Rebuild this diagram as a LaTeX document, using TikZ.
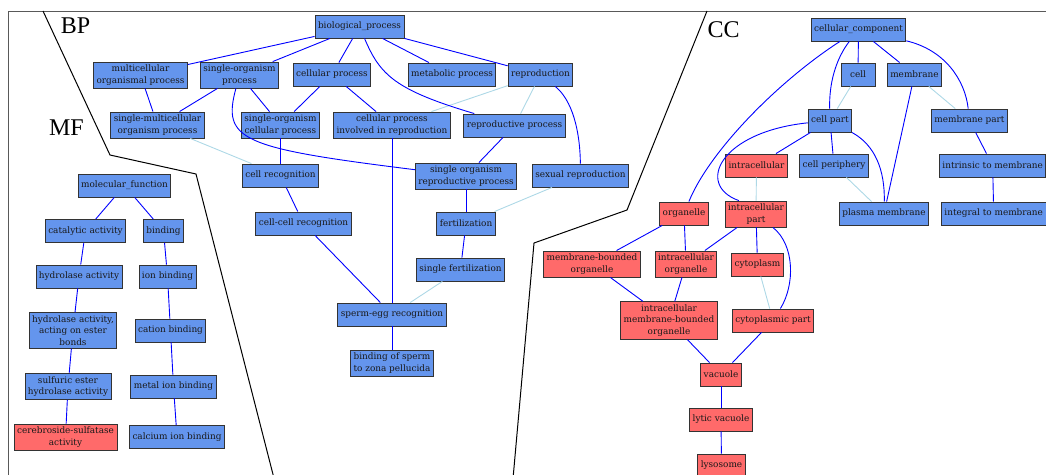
\documentclass[tikz,border=0pt]{standalone}
\usepackage{fontspec}
\newfontfamily\nodefont{DejaVu Serif}
\newfontfamily\regionfont{Liberation Serif}
\definecolor{goblue}{RGB}{100,149,237}
\definecolor{gored}{RGB}{255,106,106}
\definecolor{partblue}{RGB}{173,216,230}
\tikzset{
  term/.style={draw=black!80, line width=0.9pt, fill=goblue, text=black!90,
    font=\nodefont\fontsize{8.9}{11.3}\selectfont, align=center,
    inner xsep=3pt, inner ysep=3pt, minimum height=23pt, minimum width=34pt},
  hit/.style={term, fill=gored},
  isa/.style={draw=blue, line width=0.9pt},
  partof/.style={draw=partblue, line width=0.9pt},
  frontera/.style={draw=black, line width=1pt},
  marco/.style={draw=black!65, line width=0.9pt},
  ontolabel/.style={font=\regionfont\fontsize{24}{24}\selectfont}
}
\begin{document}
\begin{tikzpicture}[x=1pt, y=-1pt]
\useasboundingbox (0,0) rectangle (1046,474);

% Marco y fronteras entre ontologias
\draw[marco] (8,490) -- (8,11) -- (1060,11);
\draw[frontera] (43,11) -- (110,155) -- (196,174) -- (277,490);
\draw[frontera] (707,11) -- (627,210) -- (534,243) -- (512,490);
\node[ontolabel] (lblBP) at (75.5,25.5) {BP};
\node[ontolabel] (lblMF) at (66.5,128) {MF};
\node[ontolabel] (lblCC) at (723.5,30) {CC};

% Procesos biologicos (BP)
\node[term] (bp) at (359.5,26.5) {biological\_process};
\node[term] (multi) at (140.5,75) {multicellular\\organismal process};
\node[term] (sop) at (239.5,75) {single-organism\\process};
\node[term] (cellp) at (332,74.5) {cellular process};
\node[term] (metab) at (452,74.5) {metabolic process};
\node[term] (repro) at (540.5,74.5) {reproduction};
\node[term] (smop) at (157.5,125) {single-multicellular\\organism process};
\node[term] (socp) at (280.5,125) {single-organism\\cellular process};
\node[term] (cpir) at (392,125) {cellular process\\involved in reproduction};
\node[term] (reprop) at (514.5,125.5) {reproductive process};
\node[term] (cellrec) at (280.5,175.5) {cell recognition};
\node[term] (sorp) at (466,176) {single organism\\reproductive process};
\node[term] (sexrep) at (580.5,175.5) {sexual reproduction};
\node[term] (ccrec) at (303.5,223.5) {cell-cell recognition};
\node[term] (fert) at (466,223.5) {fertilization};
\node[term] (sfert) at (460.5,269.5) {single fertilization};
\node[term] (sperm) at (392,314.5) {sperm-egg recognition};
\node[term] (zona) at (392,363) {binding of sperm\\to zona pellucida};

% Funciones moleculares (MF)
\node[term] (mf) at (124.5,185.5) {molecular\_function};
\node[term] (cat) at (85.5,231) {catalytic activity};
\node[term] (bind) at (163.5,231) {binding};
\node[term] (hydro) at (79,276.5) {hydrolase activity};
\node[term] (ionb) at (167.5,276.5) {ion binding};
\node[term] (ester) at (73,330.5) {hydrolase activity,\\acting on ester\\bonds};
\node[term] (cation) at (170.5,330.5) {cation binding};
\node[term] (sulf) at (68,386.5) {sulfuric ester\\hydrolase activity};
\node[term] (metal) at (173.5,386.5) {metal ion binding};
\node[hit] (cereb) at (65.5,437) {cerebroside-sulfatase\\activity};
\node[term] (calc) at (177,437) {calcium ion binding};

% Componentes celulares (CC)
\node[term] (cc) at (858.5,29.5) {cellular\_component};
\node[term] (cell) at (858,74.5) {cell};
\node[term] (memb) at (914.5,74.5) {membrane};
\node[term] (cellpart) at (830,120.5) {cell part};
\node[term] (membpart) at (969.5,120.5) {membrane part};
\node[hit] (intrac) at (756.5,165.5) {intracellular};
\node[term] (periph) at (834,165.5) {cell periphery};
\node[term, anchor=west] (intrinsic) at (939,165.5) {intrinsic to membrane};
\node[hit] (organelle) at (684,213.5) {organelle};
\node[hit] (intrapart) at (756,214) {intracellular\\part};
\node[term] (plasma) at (884,213.5) {plasma membrane};
\node[term, anchor=west] (integral) at (941,213.5) {integral to membrane};
\node[hit] (mbo) at (592,264) {membrane-bounded\\organelle};
\node[hit] (io) at (686,264) {intracellular\\organelle};
\node[hit] (cyto) at (757.5,264.5) {cytoplasm};
\node[hit] (imbo) at (669,320.5) {intracellular\\membrane-bounded\\organelle};
\node[hit] (cytopart) at (773,320.5) {cytoplasmic part};
\node[hit] (vac) at (721,374.5) {vacuole};
\node[hit] (lytic) at (721,419.5) {lytic vacuole};
\node[hit] (lyso) at (721.5,465.5) {lysosome};

% Relaciones is_a (rectas)
\foreach \a/\b in {bp/multi, bp/sop, bp/cellp, bp/metab, bp/repro,
    multi/smop, sop/smop, sop/socp, cellp/socp, cellp/cpir, reprop/sorp,
    cpir/sperm, socp/cellrec, cellrec/ccrec, sorp/fert, fert/sfert,
    ccrec/sperm, sperm/zona,
    mf/cat, mf/bind, cat/hydro, hydro/ester, ester/sulf, sulf/cereb,
    bind/ionb, ionb/cation, cation/metal, metal/calc,
    cc/cell, cc/memb, memb/plasma, cellpart/intrac, cellpart/periph,
    membpart/intrinsic, intrinsic/integral, organelle/mbo, organelle/io,
    intrapart/io, intrapart/cyto, mbo/imbo, io/imbo, imbo/vac,
    cytopart/vac, vac/lytic, lytic/lyso}
  \draw[isa] (\a) -- (\b);

% Relaciones part_of
\foreach \a/\b in {repro/cpir, repro/reprop, smop/cellrec, sexrep/fert,
    sfert/sperm, cell/cellpart, memb/membpart, intrac/intrapart,
    periph/plasma, cyto/cytopart}
  \draw[partof] (\a) -- (\b);

% Relaciones is_a curvas
\draw[isa] (bp) .. controls (380,75) and (395,90) .. (reprop);
\draw[isa] (sop) .. controls (222,140) and (240,148) .. (sorp);
\draw[isa] (repro) .. controls (572,100) and (580,130) .. (sexrep);
\draw[isa] (cc) .. controls (780,80) and (710,150) .. (organelle);
\draw[isa] (cc) .. controls (835,60) and (829,85) .. (cellpart);
\draw[isa] (cc) .. controls (945,50) and (965,80) .. (membpart);
\draw[isa] (cellpart) .. controls (875,145) and (885,170) .. (plasma);
\draw[isa] (cellpart) .. controls (720,132) and (695,185) .. (intrapart.142);
\draw[isa] (intrapart) .. controls (795,245) and (795,285) .. (cytopart);

\end{tikzpicture}
\end{document}
